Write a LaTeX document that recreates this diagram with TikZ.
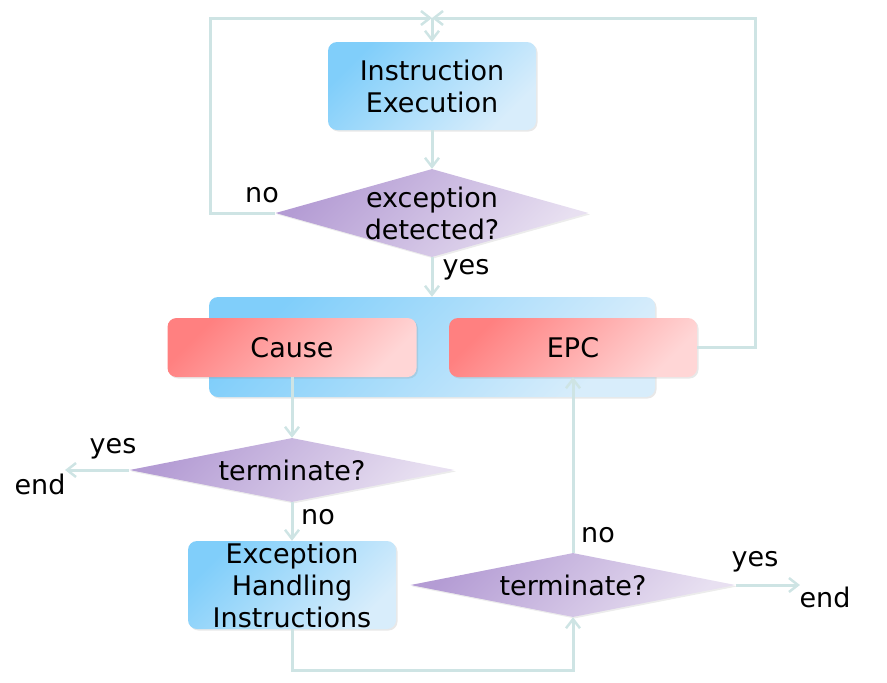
\documentclass[tikz,border=0pt]{standalone}
\usepackage{fontspec}
\setmainfont{DejaVu Sans}
\usetikzlibrary{shapes.geometric,arrows.meta,shadows}
\definecolor{flowline}{RGB}{206,228,228}
\definecolor{blueA}{RGB}{128,206,250}
\definecolor{blueB}{RGB}{216,237,251}
\definecolor{redA}{RGB}{255,128,128}
\definecolor{redB}{RGB}{255,214,214}
\definecolor{purpA}{RGB}{180,156,212}
\definecolor{purpB}{RGB}{232,224,241}
\tikzstyle{block}=[rectangle, rounded corners=9pt, inner sep=0pt, align=center, drop shadow={opacity=.18, shadow xshift=1.5pt, shadow yshift=-1.5pt}]
\tikzstyle{bluebox}=[block, top color=blueA, bottom color=blueB, shading angle=45]
\tikzstyle{redbox}=[block, top color=redA, bottom color=redB, shading angle=45]
\tikzstyle{decision}=[diamond, inner sep=0pt, top color=purpA, bottom color=purpB, shading angle=45, drop shadow={opacity=.15, shadow xshift=1.5pt, shadow yshift=-1.5pt}, label={[align=center]center:#1}]
\tikzstyle{flow}=[draw=flowline, line width=3pt, -{Straight Barb[length=9pt, width=14pt, line width=2.5pt]}]
\tikzstyle{tag}=[inner sep=0pt]

\begin{document}
\begin{tikzpicture}[x=1pt, y=-1pt, font=\fontsize{27}{32}\selectfont]
\useasboundingbox (0,0) rectangle (887,683);
% boxes
\node[bluebox, minimum width=208pt, minimum height=88pt] (instr) at (432,86) {Instruction\\Execution};
\node[decision={exception\\detected?}, minimum width=313pt, minimum height=88pt] (detect) at (432,213) {};
\node[bluebox, minimum width=446pt, minimum height=100pt] (regs) at (432,347) {};
\node[redbox, minimum width=249pt, minimum height=59pt] (cause) at (292,347.5) {Cause};
\node[redbox, minimum width=248pt, minimum height=59pt] (epc) at (573,347.5) {EPC};
\node[decision={terminate?}, minimum width=325pt, minimum height=64pt] (termA) at (292,470) {};
\node[bluebox, minimum width=208pt, minimum height=88pt] (handler) at (292,585) {Exception\\Handling\\Instructions};
\node[decision={terminate?}, minimum width=325pt, minimum height=64pt] (termB) at (573,585) {};
\coordinate (join) at (432,18);
\coordinate (endA) at (65,470);
\coordinate (endB) at (800,585);
% connectors
\draw[flow] (join) -- (instr.north);
\draw[flow] (instr) -- (detect);
\draw[flow] (detect.west) -- ++(-65,0) |- (join);
\draw[flow] (epc.east) -- ++(58,0) |- (join);
\draw[flow] (detect) -- (regs);
\draw[flow] (cause) -- (termA);
\draw[flow] (termA.west) -- (endA);
\draw[flow] (termA) -- (handler);
\draw[flow] (handler.south) -- ++(0,41) -| (termB.south);
\draw[flow] (termB.north) -- (epc.south);
\draw[flow] (termB.east) -- (endB);
% labels
\node[tag] (noA) at (262,195) {no};
\node[tag] (yesA) at (466,270) {yes};
\node[tag] (yesB) at (113,449) {yes};
\node[tag] (endAtxt) at (40,484) {end};
\node[tag] (noB) at (318,517) {no};
\node[tag] (noC) at (598,535) {no};
\node[tag] (yesC) at (755,562) {yes};
\node[tag] (endBtxt) at (825,597) {end};
\end{tikzpicture}
\end{document}
